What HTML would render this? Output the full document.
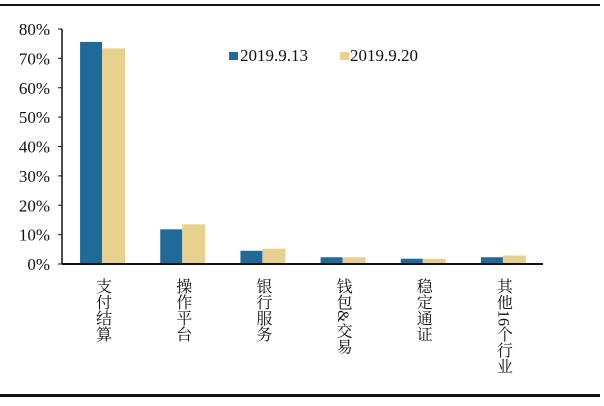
<!DOCTYPE html>
<html><head><meta charset="utf-8"><style>
body{margin:0;background:#fff;}
svg{display:block;}
.t{font-family:"Liberation Serif","Noto Serif CJK SC",serif;fill:#111;}
</style></head><body>
<svg width="604" height="406" viewBox="0 0 604 406">
<rect x="0" y="4" width="600" height="2" fill="#111"/>
<rect x="0" y="394" width="600" height="3" fill="#111"/>
<g id="plot"></g>
<g>
<rect x="229" y="52" width="9" height="8" fill="#1f6a98"/>
<text class="t" x="240" y="61" font-size="17">2019.9.13</text>
<rect x="340" y="52" width="9" height="8" fill="#e8d08f"/>
<text class="t" x="350" y="61" font-size="17">2019.9.20</text>
</g>
</svg>
<script>
const categories=["支付结算","操作平台","银行服务","钱包&交易","稳定通证","其他16个行业"];
const series0913=[75.6,11.8,4.5,2.3,1.8,2.3];
const series0920=[73.4,13.5,5.2,2.3,1.8,2.9];
const yTicks=[0,10,20,30,40,50,60,70,80];
const NS="http://www.w3.org/2000/svg";
const g=document.getElementById('plot');
const x0=62,x1=543,yBase=264,yTop=29,yMax=80;
const y=v=>yBase-(v/yMax)*(yBase-yTop);
const bw=(x1-x0)/categories.length;
const xc=i=>x0+bw*(i+0.5);
function mk(tag,attrs){const e=document.createElementNS(NS,tag);for(const k in attrs)e.setAttribute(k,attrs[k]);g.appendChild(e);return e;}
const ya=mk('line',{x1:x0,y1:yTop,x2:x0,y2:yBase,stroke:'#111','stroke-width':1.5});


yTicks.forEach(v=>{
 const tk=mk('line',{x1:x0-4,y1:y(v),x2:x0,y2:y(v),stroke:'#111','stroke-width':1});
 
 
 const t=mk('text',{x:x0-12,y:y(v)+6,'text-anchor':'end','font-size':17,class:'t'});
 t.textContent=v+'%';
 
 
});
categories.forEach((c,i)=>{
 const b1=mk('rect',{x:xc(i)-22,y:y(series0913[i]),width:22,height:yBase-y(series0913[i]),fill:'#1f6a98'});
 
 
 const b2=mk('rect',{x:xc(i),y:y(series0920[i]),width:23,height:yBase-y(series0920[i]),fill:'#e8d08f'});
 
 
 const t=mk('text',{x:xc(i),y:278,'font-size':16,class:'t','writing-mode':'vertical-rl','text-orientation':'mixed','style':'writing-mode:vertical-rl;text-orientation:mixed'});
 t.textContent=c;
 
 
});
const xa=mk('line',{x1:x0,y1:yBase,x2:x1,y2:yBase,stroke:'#111','stroke-width':2});


</script>
</body></html>
